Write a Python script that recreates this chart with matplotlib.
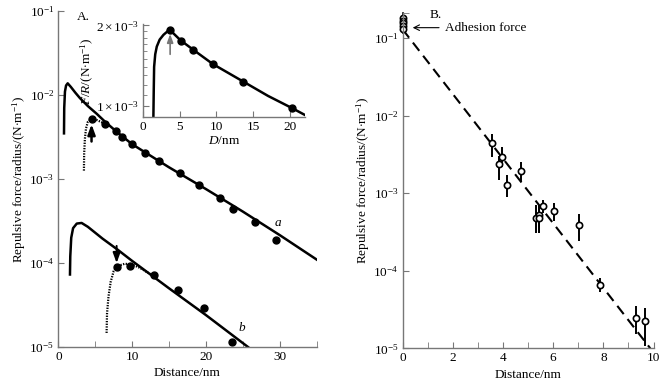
import numpy as np
import matplotlib
matplotlib.use("Agg")
import matplotlib.pyplot as plt
from matplotlib.ticker import FixedLocator, NullFormatter, FuncFormatter

plt.rcParams['font.family'] = ['Liberation Serif', 'DejaVu Serif']
plt.rcParams['mathtext.fontset'] = 'custom'
plt.rcParams['mathtext.rm'] = 'Liberation Serif'
plt.rcParams['mathtext.it'] = 'Liberation Serif:italic'

# ---------------- Panel A data ----------------
a_line_x = [0.77, 0.8, 0.9, 1.05, 1.27, 1.7, 2.3, 2.93, 4.0, 5.19, 6.35, 8, 10, 15, 20, 25, 30, 35]
a_line_y = [3.5e-3, 7e-3, 1.1e-2, 1.3e-2, 1.38e-2, 1.25e-2, 1.07e-2, 9.2e-3, 7.4e-3, 6.0e-3, 4.8e-3, 3.6e-3,
            2.6e-3, 1.38e-3, 7.6e-4, 4.1e-4, 2.15e-4, 1.1e-4]
a_dot_x = [3.47, 3.5, 3.6, 3.75, 4.0, 4.5, 5.2, 6.0, 6.8]
a_dot_y = [1.26e-3, 2.0e-3, 3.0e-3, 4.0e-3, 4.8e-3, 5.2e-3, 5.05e-3, 4.7e-3, 4.3e-3]
a_pts_x = [4.5, 6.35, 7.8, 8.65, 10.05, 11.7, 13.65, 16.45, 19.05, 21.9, 23.65, 26.7, 29.5]
a_pts_y = [5.23e-3, 4.52e-3, 3.73e-3, 3.14e-3, 2.61e-3, 2.04e-3, 1.66e-3, 1.19e-3, 8.48e-4, 5.89e-4,
           4.4e-4, 3.08e-4, 1.9e-4]

b_line_x = [1.58, 1.62, 1.75, 2.0, 2.5, 3.16, 4, 6, 8, 10, 15, 20, 25.7]
b_line_y = [7.3e-5, 1.2e-4, 2.0e-4, 2.6e-4, 2.95e-4, 3.0e-4, 2.7e-4, 1.95e-4, 1.45e-4, 1.06e-4, 5.0e-5,
            2.4e-5, 1.0e-5]
b_dot_x = [6.54, 6.6, 6.8, 7.1, 7.5, 8.0, 9.0, 10.0, 11.0, 12.0, 12.5]
b_dot_y = [1.47e-5, 2.5e-5, 4.0e-5, 6.0e-5, 8.0e-5, 9.2e-5, 9.8e-5, 9.6e-5, 8.8e-5, 7.8e-5, 7.4e-5]
b_pts_x = [7.93, 9.69, 12.97, 16.27, 19.8, 23.5]
b_pts_y = [8.96e-5, 9.3e-5, 7.2e-5, 4.8e-5, 2.88e-5, 1.14e-5]

# inset
in_line_x = [1.45, 1.5, 1.55, 1.7, 1.91, 2.3, 2.82, 3.5, 3.72, 5.13, 6.82, 9.5, 13.6, 17, 20.3, 22]
in_line_y = [9.07e-4, 1.15e-3, 1.40e-3, 1.56e-3, 1.667e-3, 1.77e-3, 1.845e-3, 1.915e-3, 1.92e-3, 1.76e-3,
             1.625e-3, 1.435e-3, 1.235e-3, 1.09e-3, 9.8e-4, 9.25e-4]
in_pts_x = [3.72, 5.13, 6.82, 9.5, 13.6, 20.3]
in_pts_y = [1.915e-3, 1.748e-3, 1.62e-3, 1.43e-3, 1.233e-3, 9.8e-4]

# ---------------- Panel B data ----------------
adh_y = [0.181, 0.167, 0.156, 0.144, 0.131]
adh_err = [0.118, 0.21]
fit_x = [0.0, 9.87]
fit_y = [0.13, 1e-5]
B_x = [3.56, 3.85, 3.96, 4.16, 4.71, 5.33, 5.44, 5.44, 5.61, 6.02, 7.04, 7.87, 9.3, 9.67]
B_y = [4.41e-3, 2.4e-3, 2.92e-3, 1.29e-3, 1.93e-3, 4.87e-4, 5.17e-4, 4.74e-4, 6.81e-4, 5.88e-4, 3.89e-4,
       6.6e-5, 2.43e-5, 2.24e-5]
B_lo = [2.98e-3, 1.47e-3, 2.17e-3, 8.9e-4, 1.4e-3, 3.04e-4, 3.04e-4, 3.04e-4, 5.5e-4, 4.4e-4, 2.45e-4,
        5.26e-5, 1.51e-5, 1.07e-5]
B_hi = [5.8e-3, 3.07e-3, 3.93e-3, 1.7e-3, 2.51e-3, 7.0e-4, 7.0e-4, 7.0e-4, 8.3e-4, 7.4e-4, 5.4e-4,
        8.05e-5, 3.5e-5, 3.3e-5]

AX_COL = '#777777'
FS = 9.5

def style_axes(ax):
    for s in ['top', 'right']:
        ax.spines[s].set_visible(False)
    for s in ['left', 'bottom']:
        ax.spines[s].set_color(AX_COL)
        ax.spines[s].set_linewidth(1.0)
    ax.tick_params(which='both', direction='in', color=AX_COL, labelsize=FS, pad=3)
    ax.tick_params(which='major', length=4)
    ax.tick_params(which='minor', length=4)

def pow_fmt(v, pos):
    e = int(round(np.log10(v)))
    return r'$10^{%d}$' % e

def arrow(ax, x, y0, y1, color='black', lw=1.8, hw=0.35, hl=0.9):
    ax.annotate('', xy=(x, y1), xytext=(x, y0),
                arrowprops=dict(arrowstyle='-|>,head_width=%g,head_length=%g' % (hw, hl),
                                color=color, lw=lw, shrinkA=0, shrinkB=0))

fig = plt.figure(figsize=(6.68, 3.83), dpi=100)

# ---- Panel A ----
axA = fig.add_axes([0.0873, 0.094, 0.3867, 0.877])
style_axes(axA)
axA.set_yscale('log')
axA.set_xlim(0, 35)
axA.set_ylim(1e-5, 1e-1)
axA.yaxis.set_major_locator(FixedLocator([1e-5, 1e-4, 1e-3, 1e-2, 1e-1]))
axA.yaxis.set_major_formatter(FuncFormatter(pow_fmt))
axA.yaxis.set_minor_locator(FixedLocator([]))
axA.xaxis.set_major_locator(FixedLocator([0, 10, 20, 30]))
axA.xaxis.set_minor_locator(FixedLocator([5, 15, 25, 35]))
axA.plot(a_line_x, a_line_y, color='black', lw=1.8)
axA.plot(a_dot_x, a_dot_y, color='black', lw=1.6, ls=(0, (0.6, 0.6)))
axA.plot(a_pts_x, a_pts_y, 'o', color='black', ms=5)
axA.plot(b_line_x, b_line_y, color='black', lw=1.8)
axA.plot(b_dot_x, b_dot_y, color='black', lw=1.6, ls=(0, (0.6, 0.6)))
axA.plot(b_pts_x, b_pts_y, 'o', color='black', ms=5)
arrow(axA, 4.5, 2.8e-3, 4.5e-3, lw=1.8, hw=0.22, hl=0.6)
arrow(axA, 7.9, 1.6e-4, 1.0e-4, lw=1.4, hw=0.22, hl=0.6)
axA.text(29.7, 3.0e-4, 'a', fontstyle='italic', fontsize=FS, ha='center', va='center')
axA.text(24.9, 1.68e-5, 'b', fontstyle='italic', fontsize=FS, ha='center', va='center')
axA.text(2.5, 8.6e-2, 'A.', fontsize=FS, ha='left', va='center')
axA.set_xlabel('Distance/nm', fontsize=FS, labelpad=3)
axA.set_ylabel(r'Repulsive force/radius/(N$\cdot$m$^{-1}$)', fontsize=FS, labelpad=1)

# ---- Inset ----
axI = fig.add_axes([0.2136, 0.6937, 0.243, 0.2429])
style_axes(axI)
axI.set_yscale('log')
axI.set_xlim(0, 22)
axI.set_ylim(9.07e-4, 2.02e-3)
axI.yaxis.set_major_locator(FixedLocator([1e-3, 2e-3]))
axI.yaxis.set_major_formatter(FuncFormatter(lambda v, p: r'$%d\times10^{-3}$' % round(v * 1e3)))
axI.yaxis.set_minor_locator(FixedLocator([1.1e-3, 1.2e-3, 1.3e-3, 1.4e-3, 1.5e-3, 1.6e-3, 1.7e-3, 1.8e-3, 1.9e-3]))
axI.yaxis.set_minor_formatter(NullFormatter())
axI.tick_params(which='minor', length=3)
axI.xaxis.set_major_locator(FixedLocator([0, 5, 10, 15, 20]))
axI.plot(in_line_x, in_line_y, color='black', lw=1.8)
axI.plot(in_pts_x, in_pts_y, 'o', color='black', ms=5)
arrow(axI, 3.72, 1.56e-3, 1.86e-3, color='#777777', lw=1.2, hw=0.18, hl=0.5)
axI.set_xlabel(r'$D$/nm', fontsize=FS, labelpad=1)
axI.set_ylabel(r'$F$/$R$/(N$\cdot$m$^{-1}$)', fontsize=FS, labelpad=0)

# ---- Panel B ----
axB = fig.add_axes([0.6028, 0.0906, 0.3755, 0.8747])
style_axes(axB)
axB.set_yscale('log')
axB.set_xlim(0, 10)
axB.set_ylim(1e-5, 0.21)
axB.yaxis.set_major_locator(FixedLocator([1e-5, 1e-4, 1e-3, 1e-2, 1e-1]))
axB.yaxis.set_major_formatter(FuncFormatter(pow_fmt))
axB.yaxis.set_minor_locator(FixedLocator([0.2099]))
axB.yaxis.set_minor_formatter(NullFormatter())
axB.xaxis.set_major_locator(FixedLocator([0, 2, 4, 6, 8, 10]))
axB.xaxis.set_minor_locator(FixedLocator([1, 3, 5, 7, 9]))
axB.plot(fit_x, fit_y, color='black', lw=1.5, ls=(0, (5, 3)))
axB.plot([0, 0], adh_err, color='black', lw=1.2, clip_on=False)
axB.plot([0] * len(adh_y), adh_y, 'o', mfc='white', mec='black', ms=4.5, mew=1.2, clip_on=False)
yerr = [np.array(B_y) - np.array(B_lo), np.array(B_hi) - np.array(B_y)]
axB.errorbar(B_x, B_y, yerr=yerr, fmt='o', mfc='white', mec='black', ecolor='black',
             ms=4.5, mew=1.2, elinewidth=1.4, capsize=0)
axB.annotate('', xy=(0.4, 0.137), xytext=(1.45, 0.137),
             arrowprops=dict(arrowstyle='->', color='black', lw=0.8, shrinkA=0, shrinkB=0))
axB.text(1.7, 0.137, 'Adhesion force', fontsize=FS, ha='left', va='center')
axB.text(1.33, 0.2, 'B.', fontsize=FS, ha='center', va='center')
axB.set_xlabel('Distance/nm', fontsize=FS, labelpad=3)
axB.set_ylabel(r'Repulsive force/radius/(N$\cdot$m$^{-1}$)', fontsize=FS, labelpad=1)

fig.savefig('out.png', dpi=100)
